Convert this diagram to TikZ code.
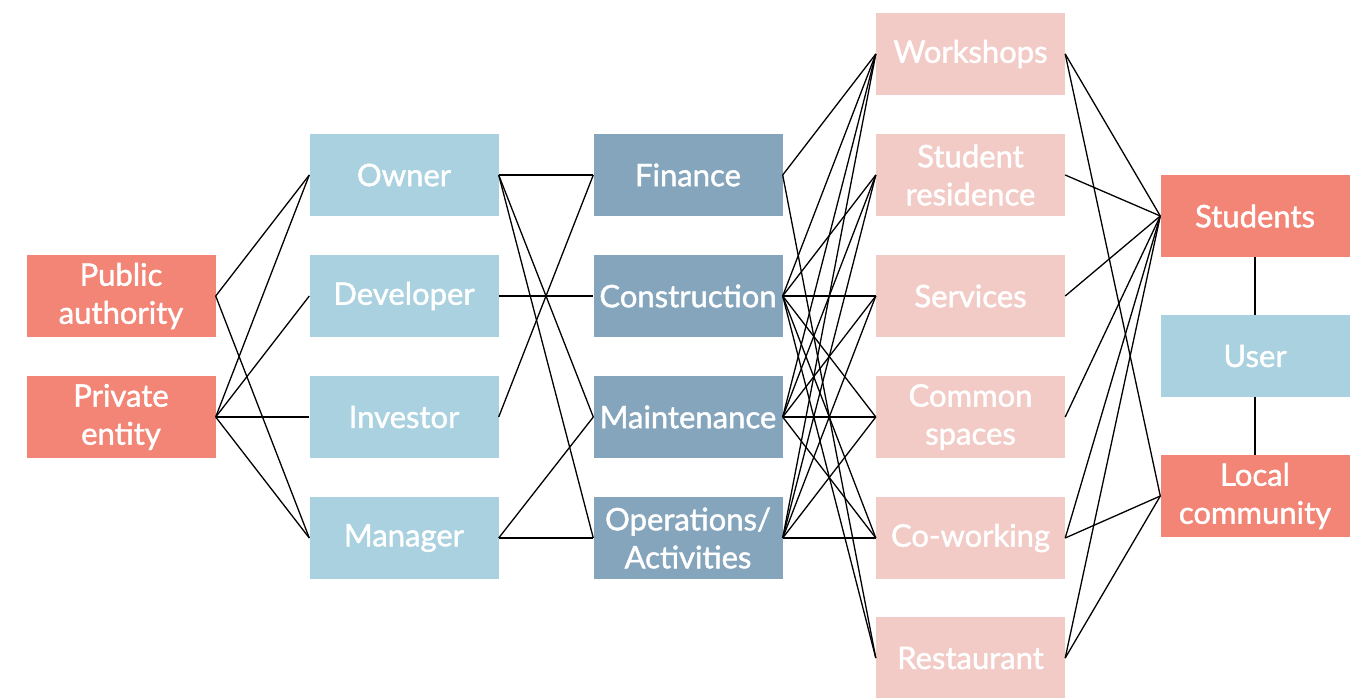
\documentclass[tikz,border=0pt]{standalone}
\usepackage{fontspec}
\setmainfont{Lato}
\newfontfamily\boxfont[FakeBold=1.4]{Lato}
\usetikzlibrary{calc}
\definecolor{salmon}{HTML}{F28576}
\definecolor{paleblue}{HTML}{A9D1DF}
\definecolor{steelblue}{HTML}{84A5BC}
\definecolor{palepink}{HTML}{F2CBC7}
\tikzset{
  box/.style={rectangle,minimum width=189pt,minimum height=82pt,inner sep=0pt,
    text=white,align=center,font=\boxfont\fontsize{31}{38}\selectfont},
  actor/.style={box,fill=salmon},
  role/.style={box,fill=paleblue},
  task/.style={box,fill=steelblue},
  space/.style={box,fill=palepink},
  link/.style={draw=black,line width=1.3pt}
}

\begin{document}
\begin{tikzpicture}[x=1pt,y=-1pt]
\useasboundingbox (0,0) rectangle (1366,697);
\node[actor] (PubAuth) at (121,296) {Public\\authority};
\node[actor] (PrivEnt) at (121,417) {Private\\entity};
\node[role] (Owner) at (404,175) {Owner};
\node[role] (Developer) at (404,296) {Developer};
\node[role] (Investor) at (404,417) {Investor};
\node[role] (Manager) at (404,538) {Manager};
\node[task] (Finance) at (688,175) {Finance};
\node[task] (Construct) at (688,296) {Construction};
\node[task] (Maint) at (688,417) {Maintenance};
\node[task] (Ops) at (688,538) {Operations/\\Activities};
\node[space] (Workshops) at (970.5,54) {Workshops};
\node[space] (StudRes) at (970.5,175) {Student\\residence};
\node[space] (Services) at (970.5,296) {Services};
\node[space] (Common) at (970.5,417) {Common\\spaces};
\node[space] (Cowork) at (970.5,538) {Co-working};
\node[space] (Rest) at (970.5,658) {Restaurant};
\node[actor] (Students) at (1255,216) {Students};
\node[role] (User) at (1255,356) {User};
\node[actor] (LocalCom) at (1255,496) {Local\\community};

\path[link] (PubAuth.east) edge (Owner.west);
\path[link] (PubAuth.east) edge (Manager.west);
\path[link] (PrivEnt.east) edge (Owner.west);
\path[link] (PrivEnt.east) edge (Developer.west);
\path[link] (PrivEnt.east) edge (Investor.west);
\path[link] (PrivEnt.east) edge (Manager.west);

\path[link] (Owner.east) edge (Finance.west);
\path[link] (Owner.east) edge (Maint.west);
\path[link] (Owner.east) edge (Ops.west);
\path[link] (Developer.east) edge (Construct.west);
\path[link] (Investor.east) edge (Finance.west);
\path[link] (Manager.east) edge (Maint.west);
\path[link] (Manager.east) edge (Ops.west);

\path[link] (Finance.east) edge (Workshops.west);
\path[link] (Finance.east) edge (Rest.west);
\path[link] (Construct.east) edge (Workshops.west);
\path[link] (Construct.east) edge (StudRes.west);
\path[link] (Construct.east) edge (Services.west);
\path[link] (Construct.east) edge (Common.west);
\path[link] (Construct.east) edge (Cowork.west);
\path[link] (Construct.east) edge (Rest.west);
\path[link] (Maint.east) edge (Workshops.west);
\path[link] (Maint.east) edge (StudRes.west);
\path[link] (Maint.east) edge (Services.west);
\path[link] (Maint.east) edge (Common.west);
\path[link] (Maint.east) edge (Cowork.west);
\path[link] (Ops.east) edge (Workshops.west);
\path[link] (Ops.east) edge (StudRes.west);
\path[link] (Ops.east) edge (Services.west);
\path[link] (Ops.east) edge (Common.west);
\path[link] (Ops.east) edge (Cowork.west);

\path[link] (Workshops.east) edge (Students.west);
\path[link] (Workshops.east) edge (LocalCom.west);
\path[link] (StudRes.east) edge (Students.west);
\path[link] (Services.east) edge (Students.west);
\path[link] (Common.east) edge (Students.west);
\path[link] (Cowork.east) edge (Students.west);
\path[link] (Cowork.east) edge (LocalCom.west);
\path[link] (Rest.east) edge (Students.west);
\path[link] (Rest.east) edge (LocalCom.west);

\path[link] (Students) edge (User);
\path[link] (User) edge (LocalCom);
\end{tikzpicture}
\end{document}
